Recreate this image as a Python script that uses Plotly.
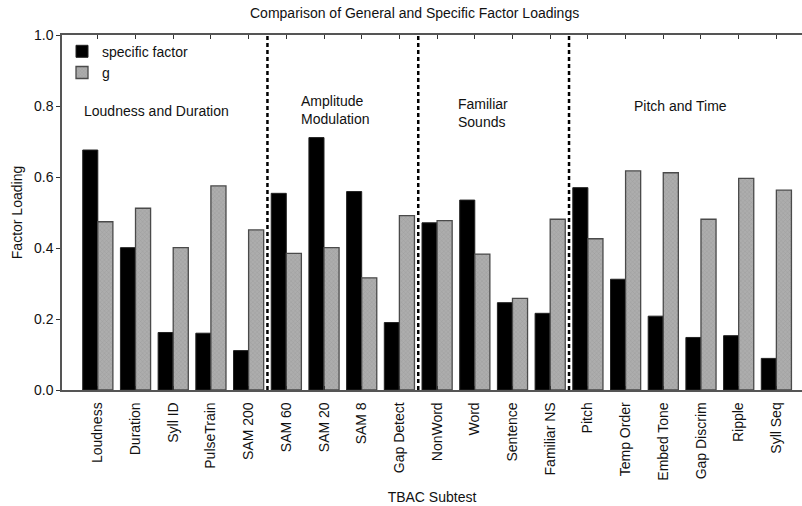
import plotly.graph_objects as go

categories = ["Loudness", "Duration", "Syll ID", "PulseTrain", "SAM 200",
              "SAM 60", "SAM 20", "SAM 8", "Gap Detect",
              "NonWord", "Word", "Sentence", "Familiar NS",
              "Pitch", "Temp Order", "Embed Tone", "Gap Discrim", "Ripple", "Syll Seq"]
specific = [0.676, 0.401, 0.162, 0.160, 0.111,
            0.554, 0.711, 0.559, 0.190,
            0.471, 0.535, 0.246, 0.216,
            0.570, 0.312, 0.208, 0.148, 0.153, 0.089]
g_load = [0.474, 0.512, 0.401, 0.575, 0.451,
          0.385, 0.401, 0.316, 0.491,
          0.477, 0.383, 0.258, 0.481,
          0.426, 0.617, 0.612, 0.481, 0.596, 0.563]
y_ticks = [0.0, 0.2, 0.4, 0.6, 0.8, 1.0]
divider_after = [4, 8, 12]  # index of last category in each group
group_labels = ["Loudness and Duration", "Amplitude<br>Modulation", "Familiar<br>Sounds", "Pitch and Time"]

FONT = "Arial, Liberation Sans, sans-serif"
TXT = "#111111"

fig = go.Figure()
fig.add_trace(go.Bar(
    x=categories, y=specific, name="specific factor",
    marker=dict(color="#000000", line=dict(color="#222222", width=1)),
))
fig.add_trace(go.Bar(
    x=categories, y=g_load, name="g",
    marker=dict(color="#a0a0a0", line=dict(color="#4a4a4a", width=1.3),
                pattern=dict(shape="x", size=3, solidity=0.25, fgcolor="#858585", bgcolor="#adadad")),
))

for d in divider_after:
    fig.add_shape(type="line", xref="x", yref="y", x0=d + 0.5, x1=d + 0.5, y0=0, y1=1,
                  line=dict(color="#000000", width=2.5, dash="4px,3px"), layer="above")

# group labels
fig.add_annotation(x=1.55, y=0.785, xref="x", yref="y", text=group_labels[0], showarrow=False,
                   font=dict(size=14, family=FONT, color=TXT), xanchor="center")
fig.add_annotation(x=5.35, y=0.788, xref="x", yref="y", text=group_labels[1], showarrow=False,
                   font=dict(size=14, family=FONT, color=TXT), xanchor="left", align="left")
fig.add_annotation(x=9.5, y=0.78, xref="x", yref="y", text=group_labels[2], showarrow=False,
                   font=dict(size=14, family=FONT, color=TXT), xanchor="left", align="left")
fig.add_annotation(x=15.45, y=0.80, xref="x", yref="y", text=group_labels[3], showarrow=False,
                   font=dict(size=14, family=FONT, color=TXT), xanchor="center")

fig.add_annotation(x=0.477, y=1.0, xref="paper", yref="paper", yshift=12,
                   text="Comparison of General and Specific Factor Loadings", showarrow=False,
                   font=dict(size=14, family=FONT, color=TXT), xanchor="center", yanchor="bottom")

fig.update_layout(
    width=802, height=506,
    margin=dict(l=62, r=0, t=35, b=116),
    paper_bgcolor="white", plot_bgcolor="white",
    barmode="group", bargap=0.2, bargroupgap=0,
    font=dict(family=FONT, size=14, color=TXT),
    showlegend=True,
    legend=dict(x=0.0, y=0.998, xanchor="left", yanchor="top", bgcolor="rgba(0,0,0,0)",
                font=dict(size=14, family=FONT, color=TXT), itemwidth=30,
                tracegroupgap=0),
    xaxis=dict(
        range=[-0.95, 18.68], showline=True, linecolor="#555", linewidth=1.5,
        mirror="ticks", ticks="inside", ticklen=4, tickcolor="#333",
        tickangle=-90, tickfont=dict(size=14, family=FONT, color=TXT),
        ticklabelstandoff=5,
        title=dict(text="TBAC Subtest", font=dict(size=14, family=FONT, color=TXT), standoff=12),
        showgrid=False, zeroline=False,
    ),
    yaxis=dict(
        range=[0, 1], tickvals=y_ticks, tickformat=".1f", showline=True, linecolor="#555",
        linewidth=1.5, ticks="outside", ticklen=4, tickcolor="#333",
        tickfont=dict(size=14, family=FONT, color=TXT),
        title=dict(text="Factor Loading", font=dict(size=14, family=FONT, color=TXT), standoff=8),
        showgrid=False, zeroline=False,
    ),
)

fig.write_html("out.html")
